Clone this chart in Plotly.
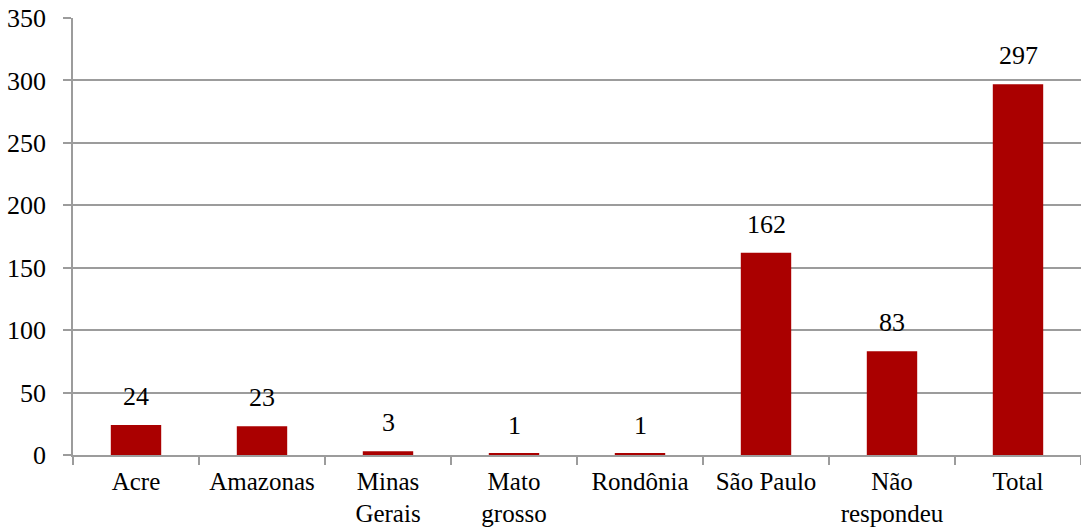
import plotly.graph_objects as go

# dados
categorias = ["Acre", "Amazonas", "Minas<br>Gerais", "Mato<br>grosso", "Rondônia",
              "São Paulo", "Não<br>respondeu", "Total"]
valores = [24, 23, 3, 1, 1, 162, 83, 297]
y_ticks = [0, 50, 100, 150, 200, 250, 300, 350]

BAR_COLOR = "#AA0000"
GRID = "#9C9C9C"
FONT = "Liberation Serif"

fig = go.Figure()
fig.add_trace(go.Bar(
    x=categorias,
    y=valores,
    marker=dict(color=BAR_COLOR, line=dict(width=0)),
    width=0.4,
))

# rótulos de valor acima das barras
for c, v in zip(categorias, valores):
    fig.add_annotation(
        x=c, y=v, text=str(v), showarrow=False,
        yanchor="bottom", yshift=12,
        font=dict(family=FONT, size=26, color="black"),
    )

fig.update_layout(
    width=1081, height=530,
    plot_bgcolor="white", paper_bgcolor="white",
    margin=dict(l=73, r=0, t=18, b=75, autoexpand=False),
    font=dict(family=FONT, size=26, color="black"),
    showlegend=False,
    xaxis=dict(
        showgrid=False,
        showline=True, linecolor=GRID, linewidth=1.5,
        ticks="outside", tickson="boundaries", ticklen=8,
        tickcolor=GRID, tickwidth=1.5,
        tickfont=dict(size=25),
        ticklabelstandoff=3,
        ticklabeloverflow="allow",
        automargin=False,
    ),
    yaxis=dict(
        range=[0, 350], tickvals=y_ticks,
        showgrid=True, gridcolor=GRID, gridwidth=1.5,
        showline=True, linecolor=GRID, linewidth=1.5,
        ticks="outside", ticklen=8, tickcolor=GRID, tickwidth=1.5,
        ticklabelstandoff=12,
        ticklabeloverflow="allow",
        zeroline=False,
        automargin=False,
    ),
)

# sem a margem de 8px do body, o gráfico ocupa a janela inteira
fig.write_html(
    "out.html",
    config={"displayModeBar": False},
    post_script="document.body.style.margin='0';",
)
